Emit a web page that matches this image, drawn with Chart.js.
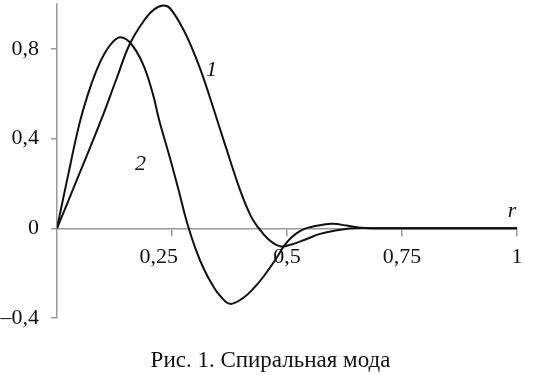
<!DOCTYPE html>
<html>
<head>
<meta charset="utf-8">
<script src="https://cdn.jsdelivr.net/npm/chart.js@4"></script>
<style>
  html, body { margin: 0; padding: 0; background: #fff; }
  #c { display: block; }
</style>
</head>
<body>
<canvas id="c" width="535" height="375"></canvas>
<script>
// Curve 1
const r1 = [0, 0.05, 0.096, 0.13, 0.159, 0.193, 0.212, 0.231, 0.246, 0.275, 0.304, 0.322, 0.34, 0.365, 0.398, 0.42, 0.435, 0.46, 0.485, 0.51, 0.54, 0.57, 0.6, 0.645, 0.7, 0.8, 0.9, 1.0];
const v1 = [0, 0.25, 0.483, 0.67, 0.825, 0.937, 0.977, 0.993, 0.98, 0.885, 0.75, 0.648, 0.535, 0.375, 0.17, 0.06, 0.01, -0.05, -0.08, -0.072, -0.05, -0.026, -0.012, 0, 0, 0, 0, 0];
// Curve 2
const r2 = [0, 0.025, 0.048, 0.067, 0.085, 0.103, 0.121, 0.138, 0.16, 0.186, 0.208, 0.222, 0.246, 0.265, 0.282, 0.3, 0.32, 0.34, 0.355, 0.376, 0.405, 0.43, 0.449, 0.478, 0.492, 0.51, 0.53, 0.55, 0.575, 0.6, 0.63, 0.66, 0.7, 0.8, 0.9, 1.0];
const v2 = [0, 0.245, 0.46, 0.596, 0.70, 0.778, 0.83, 0.852, 0.825, 0.736, 0.602, 0.483, 0.31, 0.165, 0.03, -0.085, -0.185, -0.26, -0.302, -0.337, -0.31, -0.262, -0.215, -0.13, -0.083, -0.04, -0.01, 0.005, 0.015, 0.02, 0.012, 0.002, 0, 0, 0, 0];

const xTicks = [0.25, 0.5, 0.75, 1];
const xTickLabels = ["0,25", "0,5", "0,75", "1"];
const yTicks = [-0.4, 0, 0.4, 0.8];
const yTickLabels = ["–0,4", "0", "0,4", "0,8"];

const curveLabels = ["1", "2", "r"];
const curveLabelX = [0.336, 0.1815, 0.989];
const curveLabelY = [0.706, 0.284, 0.076];

const caption = "Рис. 1. Спиральная мода";

const toPts = (xs, ys) => xs.map((x, i) => ({ x: x, y: ys[i] }));

const AXIS = '#9a9a9a';
const INK = '#111';
const FONT = 'Liberation Serif, Times New Roman, serif';

const labelPlugin = {
  id: 'curveLabels',
  afterLayout(chart) {
    // caption block offset (centred under the page text column)
    if (chart.titleBlock) chart.titleBlock.left = 24;
  },
  afterDatasetsDraw(chart) {
    const ctx = chart.ctx;
    const xs = chart.scales.x, ys = chart.scales.y;
    ctx.save();
    ctx.fillStyle = INK;
    ctx.font = 'italic 22px ' + FONT;
    ctx.textAlign = 'center';
    ctx.textBaseline = 'middle';
    curveLabels.forEach((t, i) => {
      ctx.fillText(t, xs.getPixelForValue(curveLabelX[i]), ys.getPixelForValue(curveLabelY[i]));
    });
    ctx.restore();
  }
};

const lineStyle = {
  showLine: true,
  borderColor: INK,
  borderWidth: 2,
  pointRadius: 0,
  fill: false,
  tension: 0.4
};

new Chart(document.getElementById('c'), {
  type: 'scatter',
  data: {
    datasets: [
      Object.assign({ label: '1', data: toPts(r1, v1) }, lineStyle),
      Object.assign({ label: '2', data: toPts(r2, v2) }, lineStyle)
    ]
  },
  options: {
    responsive: false,
    animation: false,
    devicePixelRatio: 1,
    layout: { padding: { left: 0, right: 18, top: 4, bottom: 0 } },
    plugins: {
      legend: { display: false },
      tooltip: { enabled: false },
      title: {
        display: true,
        position: 'bottom',
        text: caption,
        color: INK,
        font: { family: FONT, size: 23, weight: 'normal' },
        padding: { top: 29.4, bottom: 0 }
      }
    },
    scales: {
      x: {
        type: 'linear',
        position: { y: 0 },
        min: 0, max: 1,
        afterBuildTicks: s => { s.ticks = xTicks.map(v => ({ value: v })); },
        afterFit: s => { s.height = 0; s.paddingLeft = 0; s.paddingRight = 0; },
        grid: { drawOnChartArea: false, drawTicks: true, tickLength: 7, color: AXIS, lineWidth: 1.5 },
        border: { display: true, color: AXIS, width: 1.5 },
        ticks: {
          color: INK,
          font: { family: FONT, size: 22 },
          padding: 9,
          maxRotation: 0,
          autoSkip: false,
          callback: (v, i) => i === 0 ? xTickLabels[i] + '\u2003\u2009' : xTickLabels[i]
        }
      },
      y: {
        type: 'linear',
        min: -0.4, max: 1.0,
        afterBuildTicks: s => { s.ticks = yTicks.map(v => ({ value: v })); },
        afterFit: s => { s.width = 57; s.paddingTop = 0; s.paddingBottom = 0; },
        grid: { drawOnChartArea: false, drawTicks: true, tickLength: 6, color: AXIS, lineWidth: 1.5 },
        border: { display: true, color: AXIS, width: 1.5 },
        ticks: {
          color: INK,
          font: { family: FONT, size: 22 },
          padding: 12,
          autoSkip: false,
          callback: (v, i) => yTickLabels[i]
        }
      }
    }
  },
  plugins: [labelPlugin]
});
</script>
</body>
</html>
